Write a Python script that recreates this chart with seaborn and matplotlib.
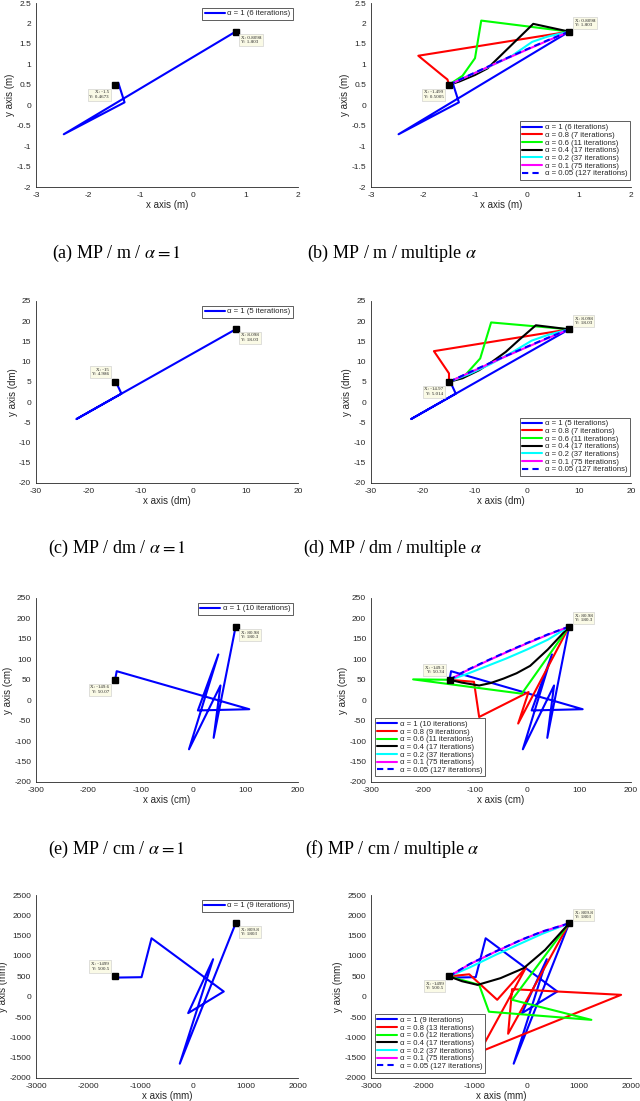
import matplotlib
matplotlib.use("Agg")
import matplotlib.pyplot as plt
import seaborn as sns

# legend text pieces
alphas = ["1", "0.8", "0.6", "0.4", "0.2", "0.1", "0.05"]
m_iters = [6, 7, 11, 17, 37, 75, 127]
dm_iters = [5, 7, 11, 17, 37, 75, 127]
cm_iters = [10, 9, 11, 17, 37, 75, 127]
mm_iters = [9, 13, 12, 17, 37, 75, 127]

# ---- metres ----
m_a1_x = [-1.5, -1.43, -1.31, -2.47, 0.81]
m_a1_y = [0.5, 0.55, 0.07, -0.71, 1.80]
m_a08_x = [-1.5, -1.53, -1.62, -2.09, 0.81]
m_a08_y = [0.5, 0.63, 0.72, 1.21, 1.80]
m_a06_x = [-1.5, -1.24, -1.0, -0.88, 0.81]
m_a06_y = [0.5, 0.72, 1.15, 2.07, 1.80]
m_a04_x = [-1.5, -1.3, -1.0, -0.76, 0.12, 0.81]
m_a04_y = [0.5, 0.58, 0.74, 0.90, 1.99, 1.80]
m_a02_x = [-1.5, -1.2, -0.8, -0.3, 0.1, 0.4, 0.81]
m_a02_y = [0.5, 0.68, 0.90, 1.20, 1.55, 1.68, 1.80]
m_a01_x = [-1.5, -1.0, -0.5, 0.0, 0.4, 0.81]
m_a01_y = [0.5, 0.79, 1.08, 1.36, 1.58, 1.80]
m_a005_x = [-1.5, -1.0, -0.5, 0.0, 0.4, 0.81]
m_a005_y = [0.5, 0.80, 1.09, 1.37, 1.59, 1.80]

# ---- decimetres ----
dm_a1_x = [-15, -14.6, -13.7, -22.3, 8.1]
dm_a1_y = [5, 4.6, 2.1, -4.2, 18]
dm_a08_x = [-15, -15.0, -17.9, 8.1]
dm_a08_y = [5, 7.1, 12.6, 18]
dm_a06_x = [-15, -11.8, -9.0, -6.9, 8.1]
dm_a06_y = [5, 6.8, 10.8, 19.7, 18]
dm_a04_x = [-15, -12.4, -9.2, -6.7, -4.1, -1.6, 1.7, 8.1]
dm_a04_y = [5, 5.9, 7.9, 10.0, 12.4, 15.3, 19.0, 18]
dm_a02_x = [-15, -11, -7, -3, 0.9, 4, 8.1]
dm_a02_y = [5, 7.0, 9.4, 12.2, 15.2, 16.6, 18]
dm_a01_x = [-15, -10, -5, 0, 4, 8.1]
dm_a01_y = [5, 7.9, 10.8, 13.6, 15.8, 18]
dm_a005_x = [-15, -10, -5, 0, 4, 8.1]
dm_a005_y = [5, 8.0, 10.9, 13.7, 15.9, 18]

# ---- centimetres ----
cm_a1_x = [-149, -146, 107, 9, 48, -8, 52, 39, 81]
cm_a1_y = [50, 71, -22, -25, 112, -120, 36, -92, 180]
cm_a08_x = [-149, -102, -92, 3, -17, 81]
cm_a08_y = [50, 45, -41, 20, -57, 180]
cm_a06_x = [-149, -219, -10, 81]
cm_a06_y = [50, 51, 16, 180]
cm_a04_x = [-149, -125, -92, -70, -45, -20, 6, 40, 81]
cm_a04_y = [50, 43, 36, 42, 53, 66, 84, 124, 180]
cm_a02_x = [-149, -120, -80, -40, 0, 40, 81]
cm_a02_y = [50, 62, 82, 102, 124, 148, 180]
cm_a01_x = [-149, -120, -80, -40, 0, 40, 81]
cm_a01_y = [50, 70, 94, 117, 139, 160, 180]
cm_a005_x = [-149, -120, -80, -40, 0, 40, 81]
cm_a005_y = [50, 71, 95, 118, 140, 161, 180]

# ---- millimetres ----
mm_a1_x = [-1500, -1440, -986, -795, 583, -96, 380, -256, 810]
mm_a1_y = [500, 470, 479, 1436, 127, -405, 921, -1648, 1803]
mm_a08_x = [-1500, -1110, -573, -20, -910, 1810, -287, -363, 810]
mm_a08_y = [500, 550, -77, 716, -1360, 45, 185, -912, 1803]
mm_a06_x = [-1500, -920, -732, 1238, -287, 810]
mm_a06_y = [500, 290, -370, -570, -77, 1803]
mm_a04_x = [-1500, -1250, -950, -510, -65, 348, 810]
mm_a04_y = [500, 380, 290, 455, 700, 1150, 1803]
mm_a02_x = [-1500, -1100, -600, -100, 300, 810]
mm_a02_y = [500, 720, 1030, 1320, 1550, 1803]
mm_a01_x = [-1500, -1100, -600, -100, 300, 810]
mm_a01_y = [500, 800, 1110, 1400, 1600, 1803]
mm_a005_x = [-1500, -1100, -600, -100, 300, 810]
mm_a005_y = [500, 805, 1115, 1405, 1605, 1803]

# data tips
start_pts = [(-1.5, 0.5), (-15, 5), (-149, 50), (-1500, 500)]
goal_pts = [(0.81, 1.80), (8.1, 18), (81, 180), (810, 1803)]
start_tips = ["X: -1.5\nY: 0.4673", "X: -1.499\nY: 0.5005",
              "X: -15\nY: 4.986", "X: -14.97\nY: 5.014",
              "X: -149.6\nY: 50.07", "X: -149.3\nY: 50.34",
              "X: -1499\nY: 500.5", "X: -1499\nY: 500.5"]
goal_tips = ["X: 0.8098\nY: 1.803", "X: 0.8098\nY: 1.803",
             "X: 8.098\nY: 18.03", "X: 8.098\nY: 18.03",
             "X: 80.98\nY: 180.3", "X: 80.98\nY: 180.3",
             "X: 809.8\nY: 1803", "X: 809.8\nY: 1803"]
start_side = ["down", "down", "up", "down", "down", "up", "up", "down"]

units = ["m", "dm", "cm", "mm"]
captions = [r"(a) MP / m / $\alpha = 1$", r"(b) MP / m / multiple $\alpha$",
            r"(c) MP / dm / $\alpha = 1$", r"(d) MP / dm / multiple $\alpha$",
            r"(e) MP / cm / $\alpha = 1$", r"(f) MP / cm / multiple $\alpha$"]

colors = ["#0000ff", "#ff0000", "#00ff00", "#000000", "#00ffff", "#ff00ff", "#0000ff"]

sns.set_theme(style="white")
plt.rcParams["font.family"] = ["Liberation Sans", "DejaVu Sans"]
plt.rcParams["mathtext.fontset"] = "stix"
plt.rcParams["axes.unicode_minus"] = False

series = {
    "m": ([m_a1_x, m_a08_x, m_a06_x, m_a04_x, m_a02_x, m_a01_x, m_a005_x],
          [m_a1_y, m_a08_y, m_a06_y, m_a04_y, m_a02_y, m_a01_y, m_a005_y], m_iters),
    "dm": ([dm_a1_x, dm_a08_x, dm_a06_x, dm_a04_x, dm_a02_x, dm_a01_x, dm_a005_x],
           [dm_a1_y, dm_a08_y, dm_a06_y, dm_a04_y, dm_a02_y, dm_a01_y, dm_a005_y], dm_iters),
    "cm": ([cm_a1_x, cm_a08_x, cm_a06_x, cm_a04_x, cm_a02_x, cm_a01_x, cm_a005_x],
           [cm_a1_y, cm_a08_y, cm_a06_y, cm_a04_y, cm_a02_y, cm_a01_y, cm_a005_y], cm_iters),
    "mm": ([mm_a1_x, mm_a08_x, mm_a06_x, mm_a04_x, mm_a02_x, mm_a01_x, mm_a005_x],
           [mm_a1_y, mm_a08_y, mm_a06_y, mm_a04_y, mm_a02_y, mm_a01_y, mm_a005_y], mm_iters),
}
scales = {"m": 1, "dm": 10, "cm": 100, "mm": 1000}

W, H = 640, 1101
rows = [(3, 187), (301, 483), (598, 782), (895, 1078)]
cols = [(36, 298), (371, 631)]
tip_box = dict(boxstyle="square,pad=0.35", fc="#fafae6", ec="#c8c8c8", lw=0.4)

fig = plt.figure(figsize=(W / 100, H / 100), dpi=100)

for r, unit in enumerate(units):
    xs, ys, iters = series[unit]
    s = scales[unit]
    for c in range(2):
        x0, x1 = cols[c]
        y0, y1 = rows[r]
        ax = fig.add_axes([x0 / W, 1 - y1 / H, (x1 - x0) / W, (y1 - y0) / H])
        n = 1 if c == 0 else 7
        for i in range(n):
            ls = (0, (3, 2)) if i == 6 else "-"
            sns.lineplot(x=xs[i], y=ys[i], sort=False, estimator=None, ax=ax,
                         color=colors[i], lw=1.5, linestyle=ls,
                         label=f"α = {alphas[i]} ({iters[i]} iterations)")

        # markers + datatips
        k = 2 * r + c
        sx, sy = start_pts[r]
        gx, gy = goal_pts[r]
        ax.plot([sx, gx], [sy, gy], ls="none", marker="s", ms=3.8, color="black", zorder=5)
        tip_kw = dict(textcoords="offset points", fontsize=3.6,
                      family="Liberation Serif", bbox=tip_box, zorder=6)
        if start_side[k] == "down":
            ax.annotate(start_tips[k], (sx, sy), xytext=(-4, -4), ha="right", va="top", **tip_kw)
        else:
            ax.annotate(start_tips[k], (sx, sy), xytext=(-4, 4), ha="right", va="bottom", **tip_kw)
        if c == 0:
            ax.annotate(goal_tips[k], (gx, gy), xytext=(4, -3), ha="left", va="top", **tip_kw)
        else:
            ax.annotate(goal_tips[k], (gx, gy), xytext=(4, 3), ha="left", va="bottom", **tip_kw)

        ax.set_xlim(-3 * s, 2 * s)
        ax.set_ylim(-2 * s, 2.5 * s)
        ax.set_xticks([v * s for v in [-3, -2, -1, 0, 1, 2]])
        ax.set_yticks([v * s for v in [-2, -1.5, -1, -0.5, 0, 0.5, 1, 1.5, 2, 2.5]])
        if unit == "m":
            ax.set_yticklabels(["-2", "-1.5", "-1", "-0.5", "0", "0.5", "1", "1.5", "2", "2.5"])
        ax.set_xlabel(f"x axis ({unit})", fontsize=7, labelpad=1, color="#262626")
        ax.set_ylabel(f"y axis ({unit})", fontsize=7, labelpad=1, color="#262626")
        ax.tick_params(direction="out", length=2, width=0.5, labelsize=6,
                       colors="#262626", pad=1.5)
        for side in ["top", "right"]:
            ax.spines[side].set_visible(False)
        for side in ["left", "bottom"]:
            ax.spines[side].set_color("#262626")
            ax.spines[side].set_linewidth(0.6)

        if c == 0:
            loc, anchor = "upper right", (0.98, 0.975)
        elif unit in ("m", "dm"):
            loc, anchor = "lower right", (0.995, 0.04)
        else:
            loc, anchor = "lower left", (0.015, 0.03)
        leg = ax.legend(loc=loc, bbox_to_anchor=anchor, fontsize=5.6, frameon=True,
                        fancybox=False, framealpha=1, handlelength=2.6, handletextpad=0.3,
                        labelspacing=0.03, borderpad=0.3, borderaxespad=0)
        leg.get_frame().set_edgecolor("#444444")
        leg.get_frame().set_linewidth(0.6)

# sub-figure captions
cap_y = [253, 548, 849]
cap_x = [117, 392]
for j, cap in enumerate(captions):
    fig.text(cap_x[j % 2] / W, 1 - cap_y[j // 2] / H, cap, ha="center", va="center",
             fontsize=13, family="Liberation Serif", color="black")

fig.savefig("out.png", dpi=100)
